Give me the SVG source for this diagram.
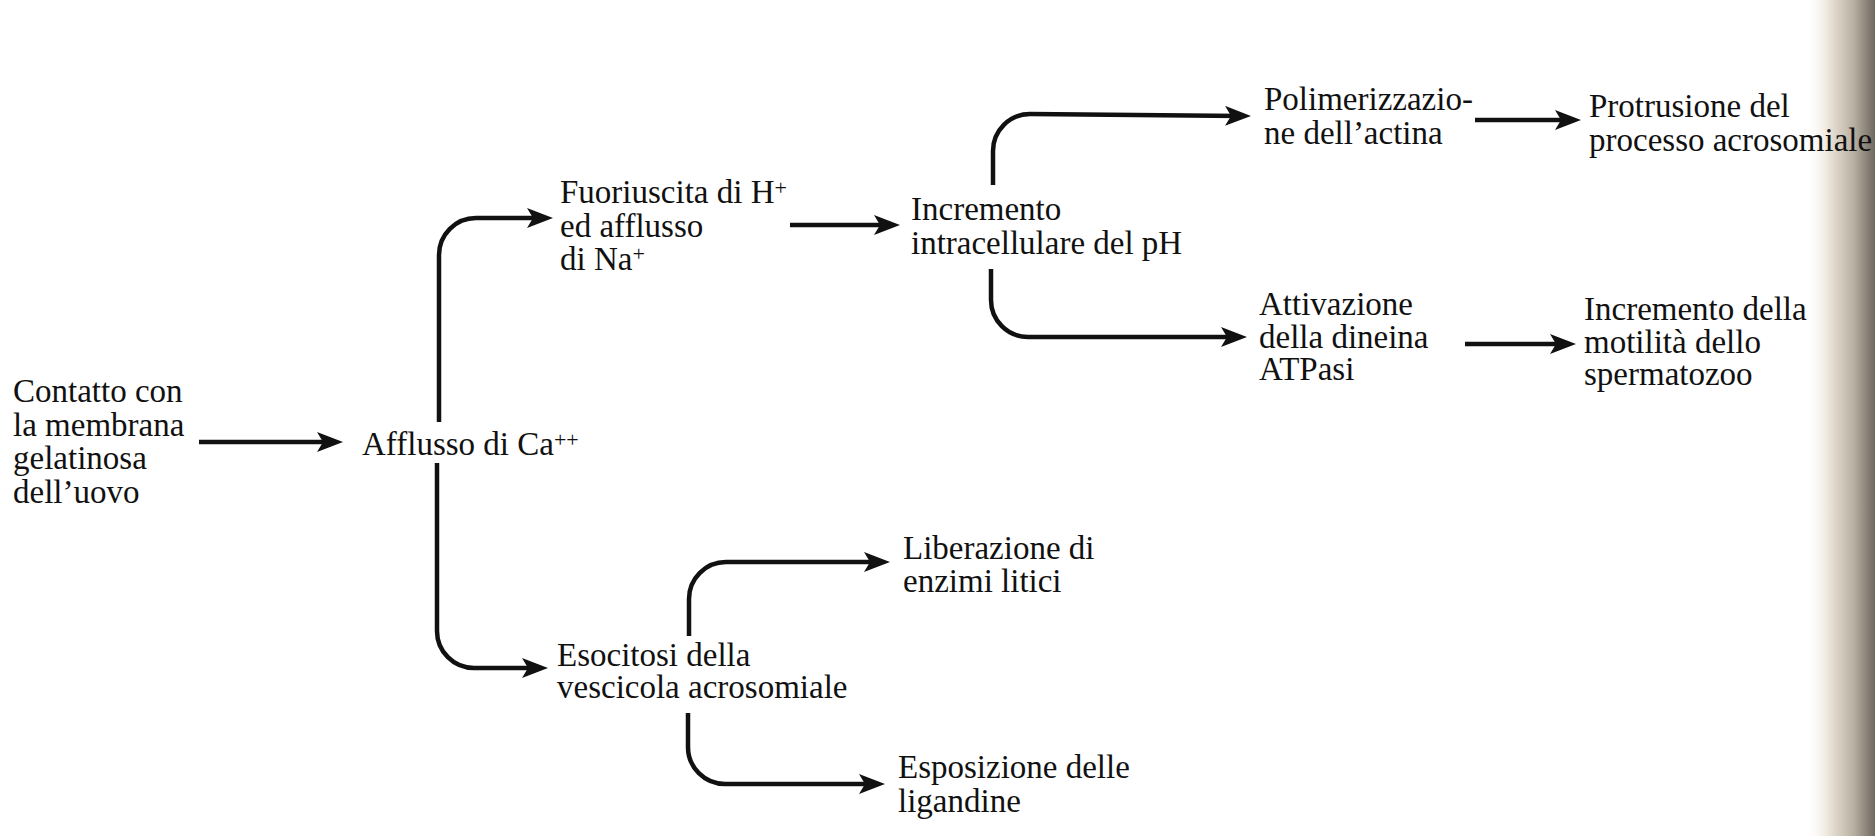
<svg xmlns="http://www.w3.org/2000/svg" width="1875" height="836" viewBox="0 0 1875 836">
<style>
  text { font-family: "Liberation Serif", "Times New Roman", serif; font-size: 33px; fill: #111; }
  .sup { font-size: 22px; }
  .conn { fill: none; stroke: #111; stroke-width: 4.5; stroke-linecap: butt; marker-end: url(#arr); }
</style>
<defs>
  <marker id="arr" viewBox="0 0 26 20" refX="16" refY="10" markerWidth="26" markerHeight="20" markerUnits="userSpaceOnUse" orient="auto">
    <path d="M0,0 L26,10 L0,20 L6,10 Z" fill="#111"/>
  </marker>
  <linearGradient id="shadow" x1="0" y1="0" x2="1" y2="0">
    <stop offset="0" stop-color="#ffffff" stop-opacity="0"/>
    <stop offset="0.35" stop-color="#e9e2d6"/>
    <stop offset="0.7" stop-color="#b8afa2"/>
    <stop offset="1" stop-color="#6e675e"/>
  </linearGradient>
</defs>
<rect x="0" y="0" width="1875" height="836" fill="#ffffff"/>
<rect x="1805" y="0" width="70" height="836" fill="url(#shadow)"/>

<g id="connectors">
  <path class="conn" d="M199,442 H333"/>
  <path class="conn" d="M439,422 V255 A37,37 0 0 1 476,218 H543"/>
  <path class="conn" d="M437,463 V631 A37,37 0 0 0 474,668 H538"/>
  <path class="conn" d="M790,225 H890"/>
  <path class="conn" d="M993,185 V151 A37,37 0 0 1 1030,114 L1241,116"/>
  <path class="conn" d="M991,269 V300 A37,37 0 0 0 1028,337 H1237"/>
  <path class="conn" d="M1475,120 H1571"/>
  <path class="conn" d="M1465,344 H1566"/>
  <path class="conn" d="M689,636 V599 A37,37 0 0 1 726,562 H880"/>
  <path class="conn" d="M688,713 V747 A37,37 0 0 0 725,784 H875"/>
</g>

<g id="contatto">
  <text x="13" y="402">Contatto con</text>
  <text x="13" y="436">la membrana</text>
  <text x="13" y="469">gelatinosa</text>
  <text x="13" y="503">dell’uovo</text>
</g>
<g id="afflusso-ca">
  <text x="362" y="455">Afflusso di Ca<tspan class="sup" dy="-8">++</tspan></text>
</g>
<g id="fuoriuscita">
  <text x="560" y="203">Fuoriuscita di H<tspan class="sup" dy="-8">+</tspan></text>
  <text x="560" y="237">ed afflusso</text>
  <text x="560" y="270">di Na<tspan class="sup" dy="-9">+</tspan></text>
</g>
<g id="incremento-ph">
  <text x="911" y="220">Incremento</text>
  <text x="911" y="254">intracellulare del pH</text>
</g>
<g id="polimerizzazione">
  <text x="1264" y="110">Polimerizzazio-</text>
  <text x="1264" y="144">ne dell’actina</text>
</g>
<g id="protrusione">
  <text x="1589" y="117">Protrusione del</text>
  <text x="1589" y="151">processo acrosomiale</text>
</g>
<g id="attivazione">
  <text x="1259" y="315">Attivazione</text>
  <text x="1259" y="348">della dineina</text>
  <text x="1259" y="380">ATPasi</text>
</g>
<g id="motilita">
  <text x="1584" y="320">Incremento della</text>
  <text x="1584" y="353">motilità dello</text>
  <text x="1584" y="385">spermatozoo</text>
</g>
<g id="liberazione">
  <text x="903" y="559">Liberazione di</text>
  <text x="903" y="592">enzimi litici</text>
</g>
<g id="esocitosi">
  <text x="557" y="666">Esocitosi della</text>
  <text x="557" y="698">vescicola acrosomiale</text>
</g>
<g id="esposizione">
  <text x="898" y="778">Esposizione delle</text>
  <text x="898" y="812">ligandine</text>
</g>
</svg>
